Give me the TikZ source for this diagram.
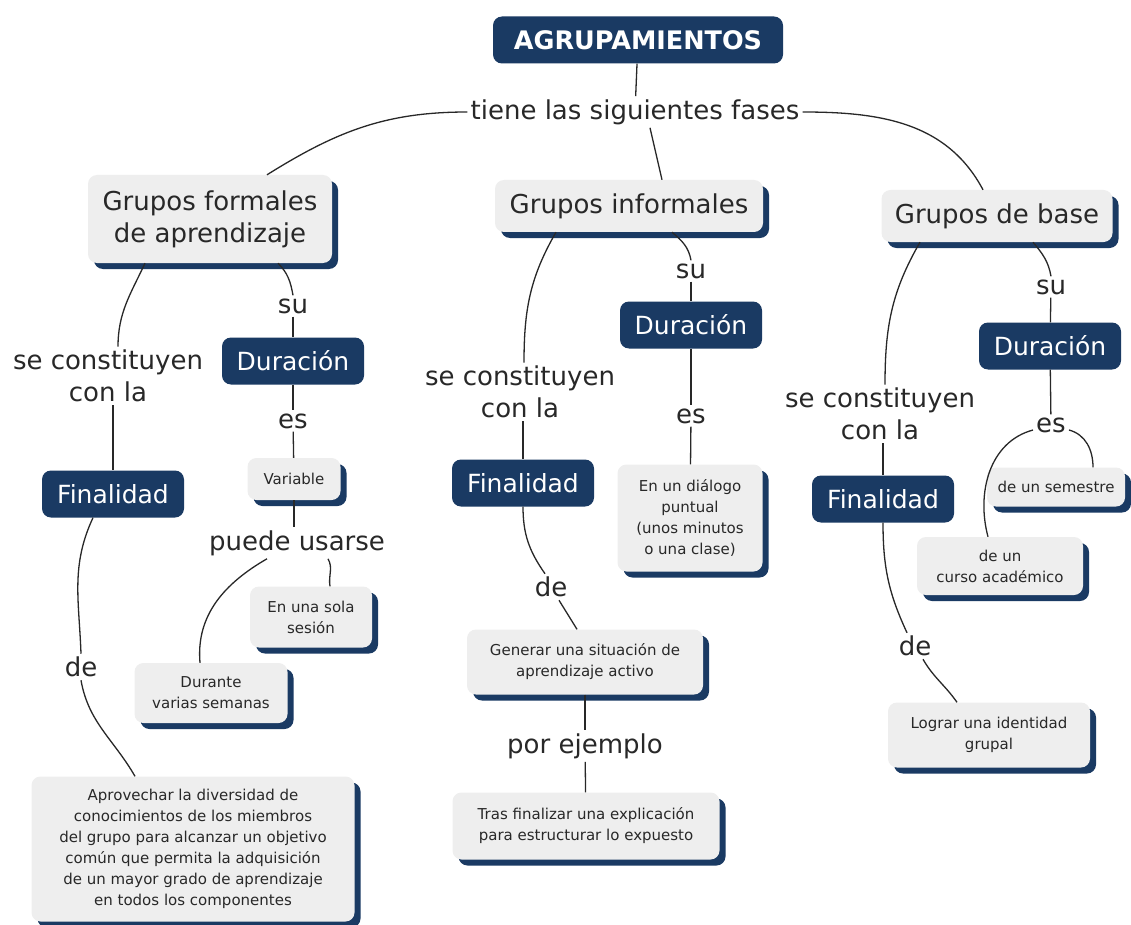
\documentclass[tikz,border=0pt]{standalone}
\usepackage{fontspec}
\setmainfont{DejaVu Sans}
\usepackage{tikz}
\usetikzlibrary{shadows}
\usepackage{xcolor}
\definecolor{navy}{RGB}{26,58,99}
\definecolor{boxgray}{RGB}{238,238,238}
\definecolor{inkgray}{RGB}{40,40,40}
\tikzset{%
	concept/.style={
		rectangle,
		rounded corners=9pt,
		fill=boxgray,
		text=inkgray,
		align=center,
		inner sep=4pt,
		font=\fontsize{15}{21}\selectfont,
		drop shadow={shadow xshift=6pt, shadow yshift=-6pt, fill=navy, opacity=1}
	},
	bigconcept/.style={
		concept,
		font=\fontsize{26}{32}\selectfont
	},
	keybox/.style={
		rectangle,
		rounded corners=9pt,
		fill=navy,
		text=white,
		minimum width=142pt,
		minimum height=47pt,
		font=\fontsize{25}{30}\selectfont
	},
	linkword/.style={
		inner sep=3pt,
		align=center,
		text=inkgray,
		font=\fontsize{26}{32}\selectfont
	},
	link/.style={
		line width=1.3pt,
		draw=inkgray
	},
}

\begin{document}
\begin{tikzpicture}[x=1pt, y=1pt]
		\useasboundingbox[fill=white] (0,0) rectangle (1131,-925);
		
		% Draw the title and the three groups
		\node[keybox, minimum width=290pt, font=\fontsize{25.5}{30}\selectfont\bfseries] (agr) at (638,-40) {AGRUPAMIENTOS};
		\node[linkword] (tiene) at (635,-112) {tiene las siguientes fases};
		\node[bigconcept, minimum width=244pt, minimum height=88pt] (gf) at (210,-219) {Grupos formales\\de aprendizaje};
		\node[bigconcept, minimum width=268pt, minimum height=52pt] (gi) at (629,-206) {Grupos informales};
		\node[bigconcept, minimum width=231pt, minimum height=52pt] (gb) at (997,-216) {Grupos de base};
		
		\draw[link] (agr) -- (tiene);
		\draw[link] (tiene.west) to[out=180, in=32] ([xshift=57pt]gf.north);
		\draw[link] ([xshift=15pt]tiene.south) -- ([xshift=33pt]gi.north);
		\draw[link] (tiene.east) to[out=0, in=118] ([xshift=-14pt]gb.north);
		
		% Draw the formal groups column
		\node[linkword] (cl) at (108,-376) {se constituyen\\con la};
		\node[keybox] (finl) at (113,-494) {Finalidad};
		\node[linkword] (del) at (81,-667) {de};
		\node[concept, minimum width=323pt, minimum height=145pt] (apr) at (193,-849) {Aprovechar la diversidad de\\conocimientos de los miembros\\del grupo para alcanzar un objetivo\\común que permita la adquisición\\de un mayor grado de aprendizaje\\en todos los componentes};
		\node[linkword] (sul) at (293,-306) {su};
		\node[keybox] (durl) at (293,-361) {Duración};
		\node[linkword] (esl) at (293,-421) {es};
		\node[concept, minimum width=93pt, minimum height=42pt] (var) at (294,-479) {Variable};
		\node[linkword] (pu) at (297,-543) {puede usarse};
		\node[concept, minimum width=122pt, minimum height=61pt] (sola) at (311,-617) {En una sola\\sesión};
		\node[concept, minimum width=153pt, minimum height=60pt] (dur) at (211,-693) {Durante\\varias semanas};
		
		\draw[link] ([xshift=-65pt]gf.south) to[out=-115, in=90] ([xshift=10pt]cl.north);
		\draw[link] (cl.south -| finl) -- (finl);
		\draw[link] ([xshift=-20pt]finl.south) to[out=-115, in=92] (del.north);
		\draw[link] (del.south) to[out=-80, in=120] ([xshift=-58pt]apr.north);
		\draw[link] ([xshift=68pt]gf.south) to[out=-45, in=100] (sul.north);
		\draw[link] (sul) -- (durl);
		\draw[link] (durl) -- (esl);
		\draw[link] (esl) -- (var);
		\draw[link] (var.south) -- (var.south |- pu.north);
		\draw[link] ([xshift=-30pt]pu.south) to[out=-150, in=95] ([xshift=-11pt]dur.north);
		\draw[link] ([xshift=31pt]pu.south) to[out=-60, in=100] ([xshift=19pt]sola.north);
		
		% Draw the informal groups column
		\node[linkword] (cm) at (520,-392) {se constituyen\\con la};
		\node[keybox] (finm) at (523,-483) {Finalidad};
		\node[linkword] (dem) at (551,-587) {de};
		\node[concept, minimum width=236pt, minimum height=65pt] (gen) at (585,-662) {Generar una situación de\\aprendizaje activo};
		\node[linkword] (pe) at (585,-746) {por ejemplo};
		\node[concept, minimum width=267pt, minimum height=67pt] (tras) at (586,-826) {Tras finalizar una explicación\\para estructurar lo expuesto};
		\node[linkword] (sum) at (691,-271) {su};
		\node[keybox] (durm) at (691,-325) {Duración};
		\node[linkword] (esm) at (691,-416) {es};
		\node[concept, minimum width=145pt, minimum height=107pt] (dia) at (690,-518) {En un diálogo\\puntual\\(unos minutos\\o una clase)};
		
		\draw[link] ([xshift=-73pt]gi.south) to[out=-120, in=90] ([xshift=4pt]cm.north);
		\draw[link] (cm.south -| finm) -- (finm);
		\draw[link] (finm.south) to[out=-90, in=125] ([xshift=-6pt]dem.north);
		\draw[link] ([xshift=8pt]dem.south) -- ([xshift=-8pt]gen.north);
		\draw[link] (gen) -- (pe);
		\draw[link] (pe) -- (tras);
		\draw[link] ([xshift=43pt]gi.south) to[out=-40, in=100] (sum.north);
		\draw[link] (sum) -- (durm);
		\draw[link] (durm) -- (esm);
		\draw[link] (esm) -- (dia);
		
		% Draw the base groups column
		\node[linkword] (cr) at (880,-414) {se constituyen\\con la};
		\node[keybox] (finr) at (883,-499) {Finalidad};
		\node[linkword] (der) at (915,-646) {de};
		\node[concept, minimum width=202pt, minimum height=65pt] (log) at (989,-735) {Lograr una identidad\\grupal};
		\node[linkword] (sur) at (1051,-287) {su};
		\node[keybox] (durr) at (1050,-346) {Duración};
		\node[linkword] (esr) at (1051,-425) {es};
		\node[concept, minimum width=138pt, minimum height=39pt] (sem) at (1056,-487) {de un semestre};
		\node[concept, minimum width=166pt, minimum height=58pt] (cur) at (1000,-566) {de un\\curso académico};
		
		\draw[link] ([xshift=-77pt]gb.south) to[out=-120, in=90] ([xshift=5pt]cr.north);
		\draw[link] (cr.south -| finr) -- (finr);
		\draw[link] (finr.south) to[out=-90, in=115] ([xshift=-8pt]der.north);
		\draw[link] ([xshift=8pt]der.south) to[out=-60, in=125] ([xshift=-32pt]log.north);
		\draw[link] ([xshift=36pt]gb.south) to[out=-50, in=100] (sur.north);
		\draw[link] (sur) -- (durr);
		\draw[link] (durr) -- (esr);
		\draw[link] ([yshift=-5pt]esr.west) to[out=195, in=105] ([xshift=-12pt]cur.north);
		\draw[link] ([yshift=-5pt]esr.east) to[out=-15, in=90] ([xshift=37pt]sem.north);
	\end{tikzpicture}
\end{document}
